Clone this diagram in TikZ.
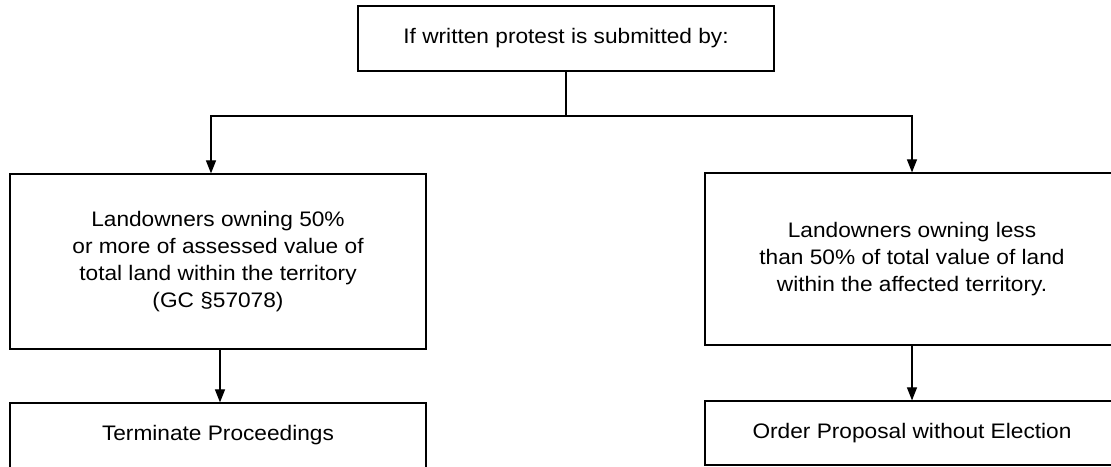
\documentclass[tikz,border=0pt]{standalone}
\usepackage{fontspec}
\setmainfont{Liberation Sans}[FakeStretch=1.08]
\usetikzlibrary{arrows.meta}
\tikzset{
  box/.style={draw=black, line width=1.2pt, align=center, inner sep=0pt,
    font=\fontsize{21}{27}\selectfont, text=black},
  link/.style={draw=black, line width=1.1pt},
  arr/.style={link, -{Triangle[length=13pt,width=10pt]}}
}
\begin{document}
\begin{tikzpicture}[x=1pt,y=-1pt]
\useasboundingbox (0,0) rectangle (1111,466);
\clip (0,0) rectangle (1111,466);
\fill[white] (0,0) rectangle (1111,466);
\node[box, minimum width=416pt, minimum height=65pt] (top) at (566,38.5) {If written protest is submitted by:};
\node[box, minimum width=416pt, minimum height=175pt] (left) at (218,261.5)
  {Landowners owning 50\%\\or more of assessed value of\\total land within the territory\\(GC §57078)};
\node[box, minimum width=414pt, minimum height=172pt] (right) at (912,259)
  {Landowners owning less\\than 50\% of total value of land\\within the affected territory.};
\node[box, minimum width=416pt, minimum height=65pt] (bl) at (218,435.5) {Terminate Proceedings};
\node[box, minimum width=414pt, minimum height=64pt] (br) at (912,433) {Order Proposal without Election};
\coordinate (j) at (566,116);
\draw[link] (top.south) -- (j);
\draw[arr] (j) -| ([xshift=-7pt]left.north);
\draw[arr] (j) -| (right.north);
\draw[arr] ([xshift=2pt]left.south) -- ([xshift=2pt]bl.north);
\draw[arr] (right.south) -- (br.north);
\end{tikzpicture}
\end{document}
